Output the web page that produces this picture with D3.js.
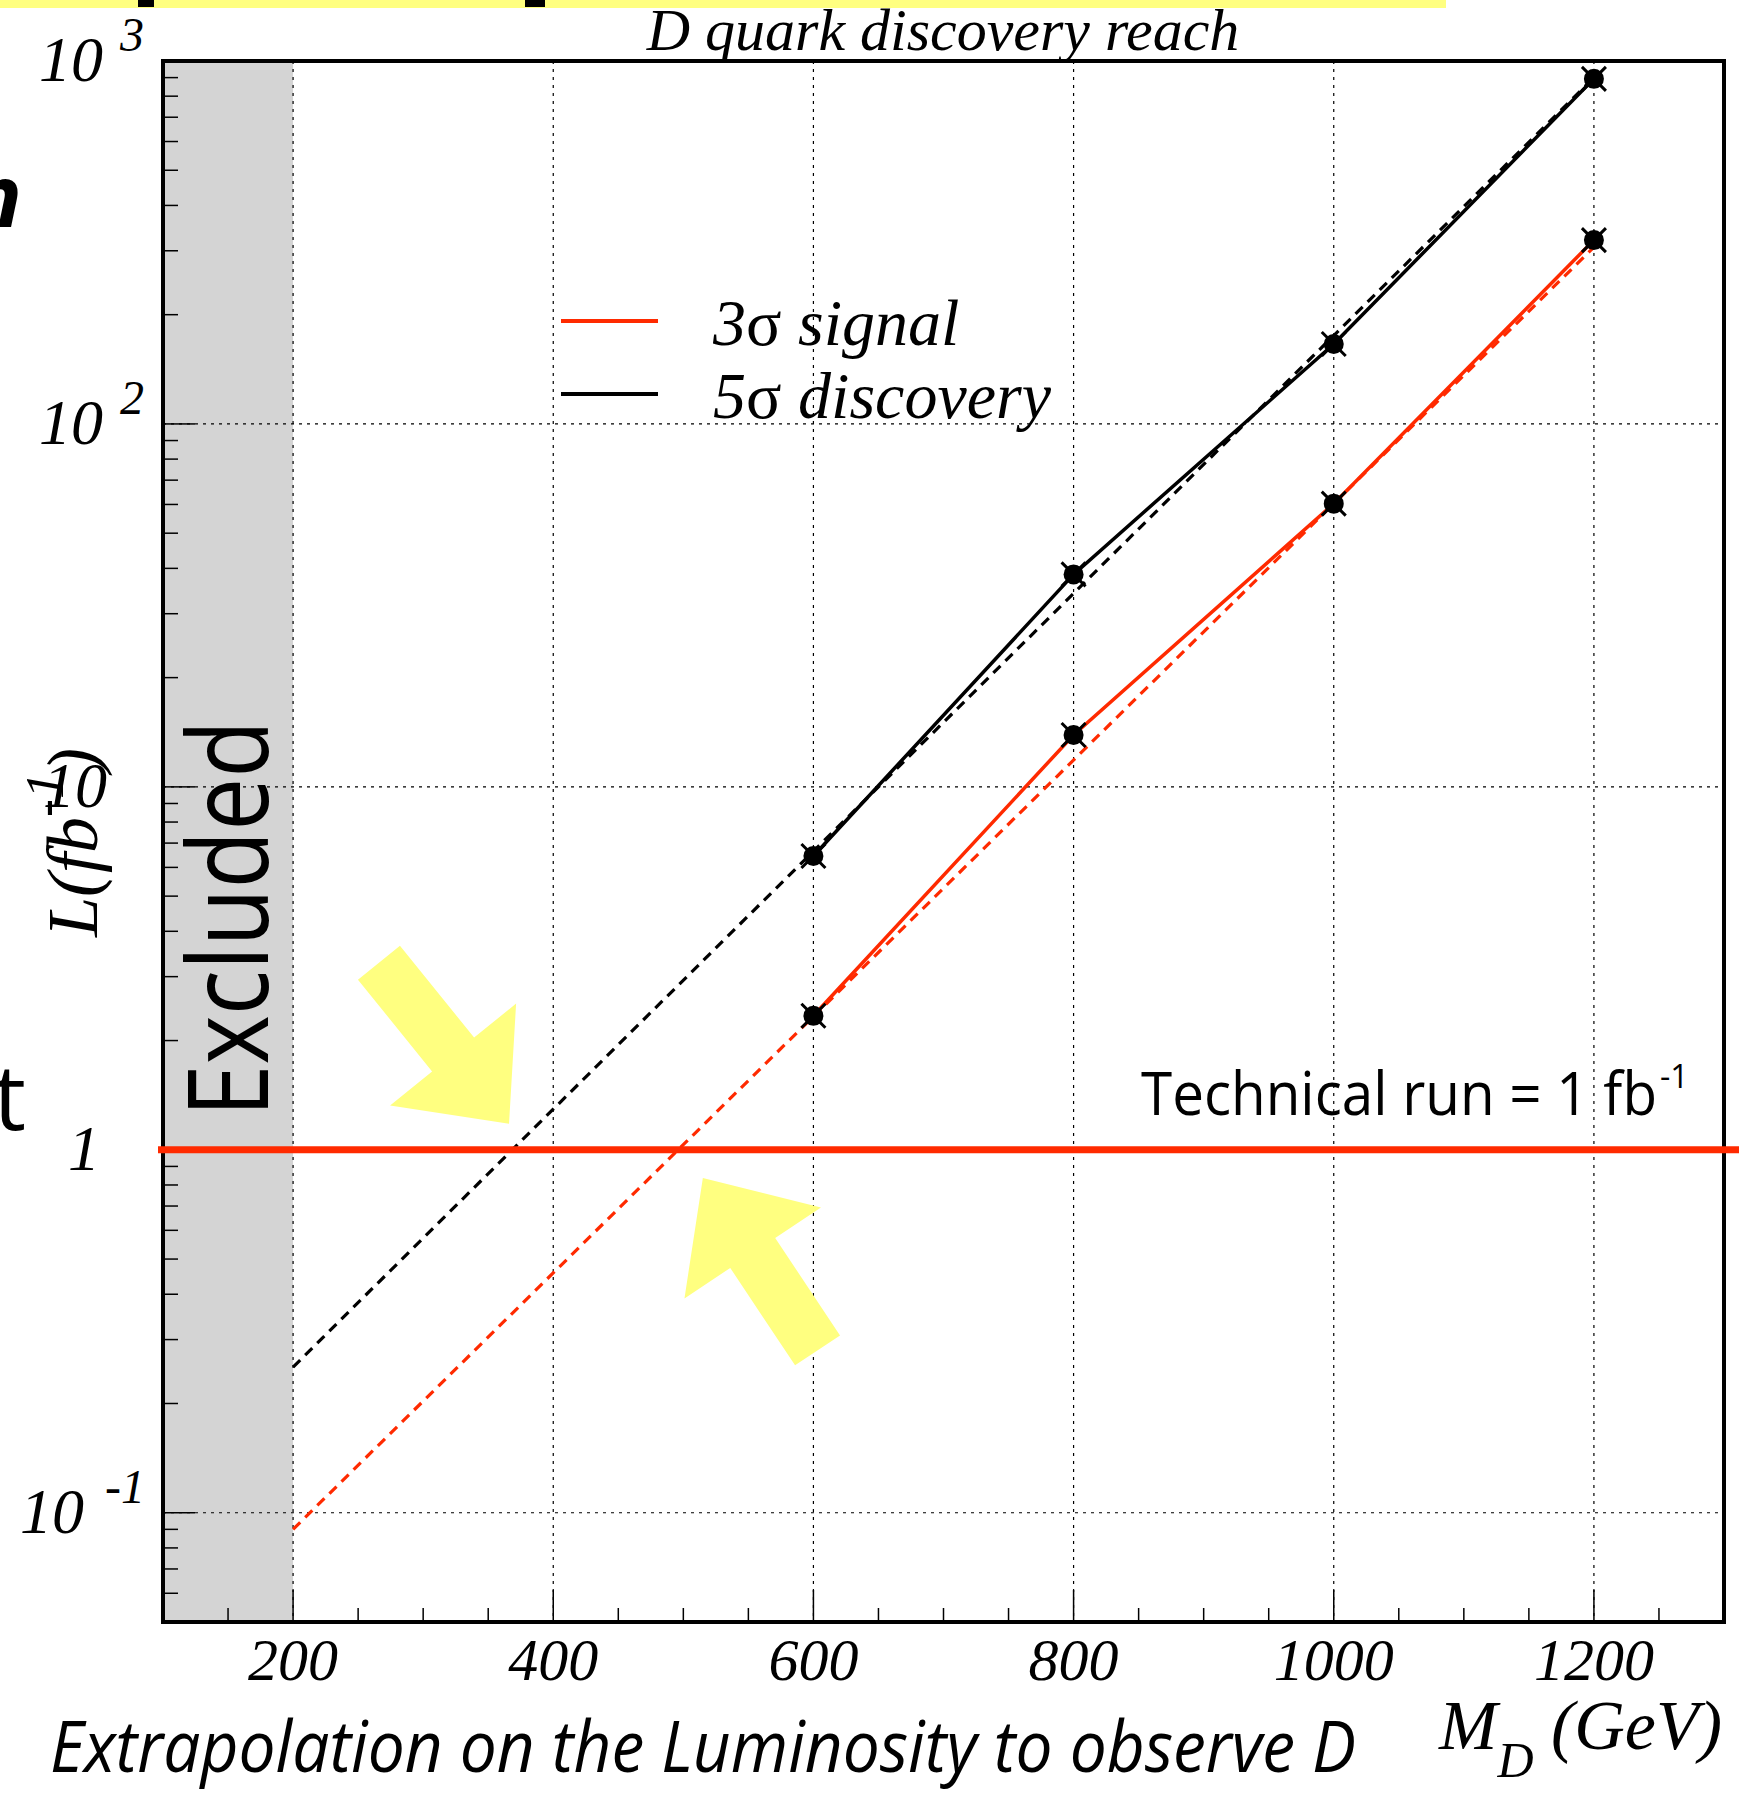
<!DOCTYPE html>
<html>
<head>
<meta charset="utf-8">
<script src="https://cdn.jsdelivr.net/npm/d3@7/dist/d3.min.js"></script>
<style>
  html, body { margin: 0; padding: 0; background: #fff; }
  svg { display: block; }
</style>
</head>
<body>
<svg id="chart" width="1739" height="1793"></svg>
<script>
// ---------------- DATA ----------------
const masses = [600, 800, 1000, 1200];                 // M_D (GeV)
const lumi3sigma = [2.34, 13.9, 60.3, 321];            // L (fb^-1), 3 sigma signal
const lumi5sigma = [6.45, 38.5, 166, 893];             // L (fb^-1), 5 sigma discovery
const fitMasses = [200, 1200];                          // extrapolation (dashed)
const fit3sigma = [0.090, 307];
const fit5sigma = [0.252, 900];
const excludedRange = [100, 200];
const techRunLumi = 1;
const xTickValues = [200, 400, 600, 800, 1000, 1200];
const xTickLabels = ["200", "400", "600", "800", "1000", "1200"];
const yTickValues = [0.1, 1, 10, 100, 1000];
const yTickBase = ["10", "1", "10", "10", "10"];
const yTickExp = ["-1", "", "", "2", "3"];
const legendLabels = ["3σ signal", "5σ discovery"];

// ---------------- SETUP ----------------
const svg = d3.select("#chart");
const W = 1739, H = 1793;
const pL = 163, pR = 1724, pT = 61, pB = 1622;
const x = d3.scaleLinear().domain([100, 1300]).range([pL, pR]);
const y = d3.scaleLog().domain([0.05, 1000]).range([pB, pT]);
const RED = "#ff2a00";
const YELLOW = "#ffff80";
const serif = "'Liberation Serif', 'DejaVu Serif', serif";
const sans = "'Open Sans', Lato, 'DejaVu Sans', sans-serif";

svg.append("rect").attr("width", W).attr("height", H).attr("fill", "#fff");

// slide background fragments
svg.append("rect").attr("x", 0).attr("y", 0).attr("width", 1446).attr("height", 8).attr("fill", YELLOW);
svg.append("rect").attr("x", 138).attr("y", 0).attr("width", 16).attr("height", 7).attr("fill", "#000");
svg.append("rect").attr("x", 525).attr("y", 0).attr("width", 20).attr("height", 7).attr("fill", "#000");
svg.append("text").attr("x", 22).attr("y", 227).attr("text-anchor", "end")
  .attr("font-family", sans).attr("font-weight", 700).attr("font-style", "italic")
  .attr("font-size", 86).text("n");
svg.append("text").attr("x", 26).attr("y", 1130).attr("text-anchor", "end")
  .attr("font-family", sans).attr("font-size", 92).text("t");

// excluded band
svg.append("rect")
  .attr("x", x(excludedRange[0])).attr("y", pT)
  .attr("width", x(excludedRange[1]) - x(excludedRange[0]))
  .attr("height", pB - pT).attr("fill", "#d4d4d4");

// grid
const grid = svg.append("g").attr("stroke", "#000").attr("stroke-width", 1.2)
  .attr("stroke-dasharray", "3,5");
grid.selectAll("line.v").data(xTickValues).join("line").attr("class", "v")
  .attr("x1", d => x(d)).attr("x2", d => x(d)).attr("y1", pT).attr("y2", pB);
grid.selectAll("line.h").data(yTickValues.filter(v => v < 1000)).join("line").attr("class", "h")
  .attr("x1", pL).attr("x2", pR).attr("y1", d => y(d)).attr("y2", d => y(d));

// fits (dashed)
const line = d3.line().x(d => x(d[0])).y(d => y(d[1]));
svg.append("path").datum(fitMasses.map((m, i) => [m, fit5sigma[i]]))
  .attr("d", line).attr("fill", "none").attr("stroke", "#000")
  .attr("stroke-width", 3.2).attr("stroke-dasharray", "10,7");
svg.append("path").datum(fitMasses.map((m, i) => [m, fit3sigma[i]]))
  .attr("d", line).attr("fill", "none").attr("stroke", RED)
  .attr("stroke-width", 3.2).attr("stroke-dasharray", "10,7");

// solid curves
svg.append("path").datum(masses.map((m, i) => [m, lumi5sigma[i]]))
  .attr("d", line).attr("fill", "none").attr("stroke", "#000").attr("stroke-width", 3.5);
svg.append("path").datum(masses.map((m, i) => [m, lumi3sigma[i]]))
  .attr("d", line).attr("fill", "none").attr("stroke", RED).attr("stroke-width", 3.5);

// markers
const pts = masses.map((m, i) => [m, lumi5sigma[i]]).concat(masses.map((m, i) => [m, lumi3sigma[i]]));
const mk = svg.append("g");
pts.forEach(p => {
  const cx = x(p[0]), cy = y(p[1]);
  mk.append("circle").attr("cx", cx).attr("cy", cy).attr("r", 10).attr("fill", "#000");
  mk.append("path").attr("d", `M${cx-12},${cy-12}L${cx+12},${cy+12}M${cx-12},${cy+12}L${cx+12},${cy-12}`)
    .attr("stroke", "#000").attr("stroke-width", 3);
});

// frame
svg.append("rect").attr("x", pL).attr("y", pT).attr("width", pR - pL).attr("height", pB - pT)
  .attr("fill", "none").attr("stroke", "#000").attr("stroke-width", 4);

// y ticks
const yTicks = svg.append("g").attr("stroke", "#000").attr("stroke-width", 1.5);
const yMinor = [];
for (let e = -2; e <= 2; e++) for (let k = 1; k <= 9; k++) {
  const v = k * Math.pow(10, e);
  if (v >= 0.05 && v <= 1000) yMinor.push(v);
}
yTicks.selectAll("line").data(yMinor).join("line")
  .attr("x1", pL).attr("x2", d => pL + (yTickValues.some(t => Math.abs(t - d) < 1e-9) ? 32 : 15))
  .attr("y1", d => y(d)).attr("y2", d => y(d));

// x ticks
const xTicks = svg.append("g").attr("stroke", "#000").attr("stroke-width", 1.5);
xTicks.selectAll("line").data(d3.range(150, 1300, 50)).join("line")
  .attr("x1", d => x(d)).attr("x2", d => x(d))
  .attr("y1", pB).attr("y2", d => pB - (d % 200 === 0 ? 32 : 14));

// y tick labels
const yBaseEnd = [84, 100, 107, 103, 103];
const yExpStart = [105, 0, 0, 120, 120];
yTickValues.forEach((v, i) => {
  svg.append("text").attr("x", yBaseEnd[i]).attr("y", y(v) + 20).attr("text-anchor", "end")
    .attr("font-family", serif).attr("font-style", "italic").attr("font-size", 64).text(yTickBase[i]);
  if (yTickExp[i]) {
    svg.append("text").attr("x", yExpStart[i]).attr("y", y(v) - 10)
      .attr("font-family", serif).attr("font-style", "italic").attr("font-size", 48).text(yTickExp[i]);
  }
});

// x tick labels
svg.selectAll("text.xl").data(xTickValues).join("text").attr("class", "xl")
  .attr("x", d => x(d)).attr("y", 1680).attr("text-anchor", "middle")
  .attr("font-family", serif).attr("font-style", "italic").attr("font-size", 60)
  .text((d, i) => xTickLabels[i]);

// title
svg.append("text").attr("x", 943).attr("y", 50).attr("text-anchor", "middle")
  .attr("font-family", serif).attr("font-style", "italic").attr("font-size", 60)
  .text("D quark discovery reach");

// y axis title
const yt = svg.append("text").attr("transform", "translate(97,937) rotate(-90)")
  .attr("font-family", serif).attr("font-style", "italic").attr("font-size", 72);
yt.append("tspan").text("L(fb");
yt.append("tspan").attr("dy", -34).attr("font-size", 54).text("-1");
yt.append("tspan").attr("dy", 34).text(")");

// x axis title
const xt = svg.append("text").attr("x", 1722).attr("y", 1749).attr("text-anchor", "end")
  .attr("font-family", serif).attr("font-style", "italic").attr("font-size", 70);
xt.append("tspan").text("M");
xt.append("tspan").attr("dy", 28).attr("font-size", 50).text("D");
xt.append("tspan").attr("dy", -28).text(" (GeV)");

// legend
const legY = [321, 394];
const legCol = [RED, "#000"];
legendLabels.forEach((lab, i) => {
  svg.append("line").attr("x1", 561).attr("x2", 658).attr("y1", legY[i]).attr("y2", legY[i])
    .attr("stroke", legCol[i]).attr("stroke-width", 4);
  const t = svg.append("text").attr("x", 713).attr("y", legY[i] + 24)
    .attr("font-family", serif).attr("font-size", 66);
  const parts = lab.split("σ");
  t.append("tspan").attr("font-style", "italic").text(parts[0]);
  t.append("tspan").text("σ");
  t.append("tspan").attr("font-style", "italic").text(parts[1]);
});

// technical run line
svg.append("line").attr("x1", 158).attr("x2", W).attr("y1", y(techRunLumi)).attr("y2", y(techRunLumi))
  .attr("stroke", RED).attr("stroke-width", 7);
svg.append("text").attr("x", 1141).attr("y", 1115).attr("font-family", sans).attr("font-size", 60)
  .attr("textLength", 516).attr("lengthAdjust", "spacingAndGlyphs").text("Technical run = 1 fb");
svg.append("text").attr("x", 1660).attr("y", 1088).attr("font-family", sans).attr("font-size", 32)
  .text("-1");

// Excluded label
svg.append("text").attr("transform", "translate(268,1117) rotate(-90)")
  .attr("font-family", sans).attr("font-size", 112)
  .attr("textLength", 397).attr("lengthAdjust", "spacingAndGlyphs").text("Excluded");

// bottom caption
svg.append("text").attr("x", 50).attr("y", 1772).attr("font-family", sans).attr("font-style", "italic")
  .attr("font-size", 72).attr("textLength", 1306).attr("lengthAdjust", "spacingAndGlyphs")
  .text("Extrapolation on the Luminosity to observe D");

// yellow arrows (annotations pointing to where the extrapolations cross 1 fb^-1)
function arrow(tipX, tipY, dx, dy, len, headLen, headHalf, shaftHalf) {
  const n = Math.hypot(dx, dy), ux = dx / n, uy = dy / n; // direction tail->tip
  const px = -uy, py = ux;
  const bx = tipX - ux * headLen, by = tipY - uy * headLen;
  const tx = tipX - ux * len, ty = tipY - uy * len;
  const P = [
    [tx + px * shaftHalf, ty + py * shaftHalf],
    [bx + px * shaftHalf, by + py * shaftHalf],
    [bx + px * headHalf, by + py * headHalf],
    [tipX, tipY],
    [bx - px * headHalf, by - py * headHalf],
    [bx - px * shaftHalf, by - py * shaftHalf],
    [tx - px * shaftHalf, ty - py * shaftHalf]
  ];
  svg.append("path").attr("d", "M" + P.map(p => p.join(",")).join("L") + "Z").attr("fill", YELLOW);
}
arrow(x(366), y(1.18), 130.2, 161.2, 207, 89, 81, 27);
arrow(x(515), y(0.836), -114.5, -172, 207, 90, 82, 27);
</script>
</body>
</html>
